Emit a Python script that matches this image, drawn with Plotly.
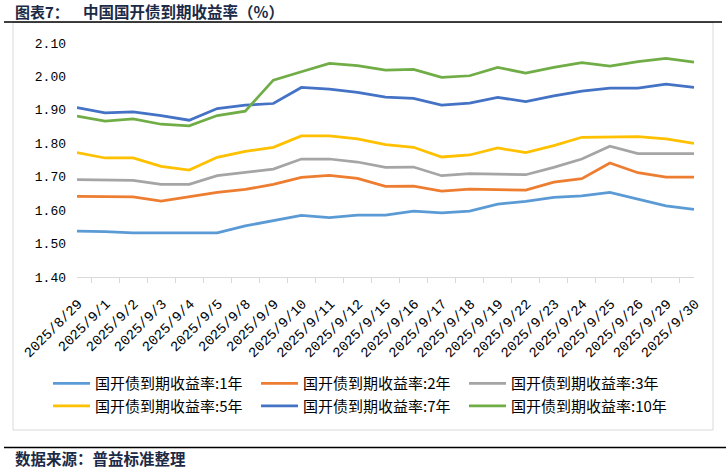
import plotly.graph_objects as go

dates = ["2025/8/29", "2025/9/1", "2025/9/2", "2025/9/3", "2025/9/4", "2025/9/5",
         "2025/9/8", "2025/9/9", "2025/9/10", "2025/9/11", "2025/9/12", "2025/9/15",
         "2025/9/16", "2025/9/17", "2025/9/18", "2025/9/19", "2025/9/22", "2025/9/23",
         "2025/9/24", "2025/9/25", "2025/9/26", "2025/9/29", "2025/9/30"]

y1 = [1.537, 1.536, 1.532, 1.532, 1.532, 1.532, 1.553, 1.569, 1.584, 1.578, 1.585, 1.585,
      1.597, 1.592, 1.597, 1.618, 1.626, 1.638, 1.643, 1.653, 1.632, 1.613, 1.602]
y2 = [1.641, 1.641, 1.640, 1.627, 1.640, 1.653, 1.662, 1.677, 1.698, 1.704, 1.695, 1.671,
      1.672, 1.657, 1.663, 1.662, 1.660, 1.684, 1.694, 1.741, 1.712, 1.699, 1.699]
y3 = [1.691, 1.690, 1.689, 1.677, 1.677, 1.703, 1.713, 1.723, 1.753, 1.753, 1.744, 1.728,
      1.729, 1.703, 1.709, 1.708, 1.706, 1.728, 1.753, 1.791, 1.769, 1.769, 1.769]
y5 = [1.772, 1.756, 1.756, 1.731, 1.720, 1.758, 1.776, 1.788, 1.822, 1.822, 1.813, 1.796,
      1.788, 1.759, 1.765, 1.786, 1.772, 1.793, 1.818, 1.818, 1.820, 1.813, 1.800]
y7 = [1.907, 1.891, 1.894, 1.883, 1.869, 1.904, 1.914, 1.919, 1.967, 1.962, 1.952, 1.938,
      1.934, 1.914, 1.920, 1.937, 1.925, 1.942, 1.956, 1.965, 1.965, 1.977, 1.967]
y10 = [1.881, 1.866, 1.873, 1.857, 1.852, 1.883, 1.896, 1.989, 2.014, 2.039, 2.032, 2.019,
       2.021, 1.997, 2.002, 2.027, 2.010, 2.027, 2.041, 2.031, 2.044, 2.054, 2.043]

names = ["国开债到期收益率:1年", "国开债到期收益率:2年", "国开债到期收益率:3年",
         "国开债到期收益率:5年", "国开债到期收益率:7年", "国开债到期收益率:10年"]
series = [y1, y2, y3, y5, y7, y10]
colors = ["#5B9BD5", "#ED7D31", "#A5A5A5", "#FFC000", "#4472C4", "#70AD47"]

W, H = 726, 470
fig = go.Figure()
for n, s, c in zip(names, series, colors):
    fig.add_trace(go.Scatter(x=dates, y=s, name=n, mode="lines",
                             line=dict(color=c, width=2.75)))

cjk = "Noto Sans CJK SC"
plot_l, plot_r, plot_t, plot_b = 77, 694, 43, 277
pw, ph = plot_r - plot_l, plot_b - plot_t
def px(x):
    return (x - plot_l) / pw
def py(y):
    return (plot_b - y) / ph

fig.update_layout(
    width=W, height=H,
    margin=dict(l=plot_l, r=W - plot_r, t=plot_t, b=H - plot_b),
    paper_bgcolor="white", plot_bgcolor="white",
    showlegend=True,
    legend=dict(orientation="h", xref="paper", yref="paper",
                x=px(48), y=py(367), xanchor="left", yanchor="top",
                entrywidth=156, entrywidthmode="pixels", itemwidth=37,
                font=dict(family=cjk, size=15, color="#000000"),
                bgcolor="rgba(0,0,0,0)", traceorder="normal"),
    xaxis=dict(type="category", showgrid=False, showline=True, linecolor="#D9D9D9",
               linewidth=1, ticks="outside", tickson="boundaries", ticklen=5,
               tickcolor="#D9D9D9", tickangle=-45,
               tickfont=dict(family="Liberation Mono", size=14, color="#000000"),
               ticklabelstandoff=12, ticklabelshift=1, zeroline=False, fixedrange=True),
    yaxis=dict(range=[1.40, 2.10], dtick=0.1, tick0=1.40, tickformat=".2f",
               showgrid=False, showline=False, zeroline=False, ticks="",
               tickfont=dict(family="Liberation Mono", size=13, color="#000000"),
               ticklabelstandoff=10, fixedrange=True),
)

fig.add_shape(type="rect", xref="paper", yref="paper", x0=px(13), x1=px(713),
              y0=py(430), y1=py(22.5), line=dict(color="#D9D9D9", width=1), layer="below")
fig.add_shape(type="line", xref="paper", yref="paper", x0=px(4), x1=px(722),
              y0=py(22), y1=py(22), line=dict(color="#000000", width=1.5))
fig.add_shape(type="line", xref="paper", yref="paper", x0=px(4), x1=px(726),
              y0=py(447.5), y1=py(447.5), line=dict(color="#000000", width=1.5))

title_color = "#1b2a47"
fig.add_annotation(text="<b>图表7：</b>", xref="paper", yref="paper", x=px(13), y=py(11),
                   xanchor="left", yanchor="middle", showarrow=False,
                   font=dict(family=cjk, size=15, color=title_color))
fig.add_annotation(text="<b>中国国开债到期收益率（%）</b>", xref="paper", yref="paper",
                   x=px(81), y=py(11), xanchor="left", yanchor="middle", showarrow=False,
                   font=dict(family=cjk, size=15.5, color=title_color))
fig.add_annotation(text="<b>数据来源：普益标准整理</b>", xref="paper", yref="paper",
                   x=px(13), y=py(458), xanchor="left", yanchor="middle", showarrow=False,
                   font=dict(family=cjk, size=15.5, color=title_color))

fig.write_html("out.html", config={"displayModeBar": False},
               post_script="document.body.style.margin='0';")
